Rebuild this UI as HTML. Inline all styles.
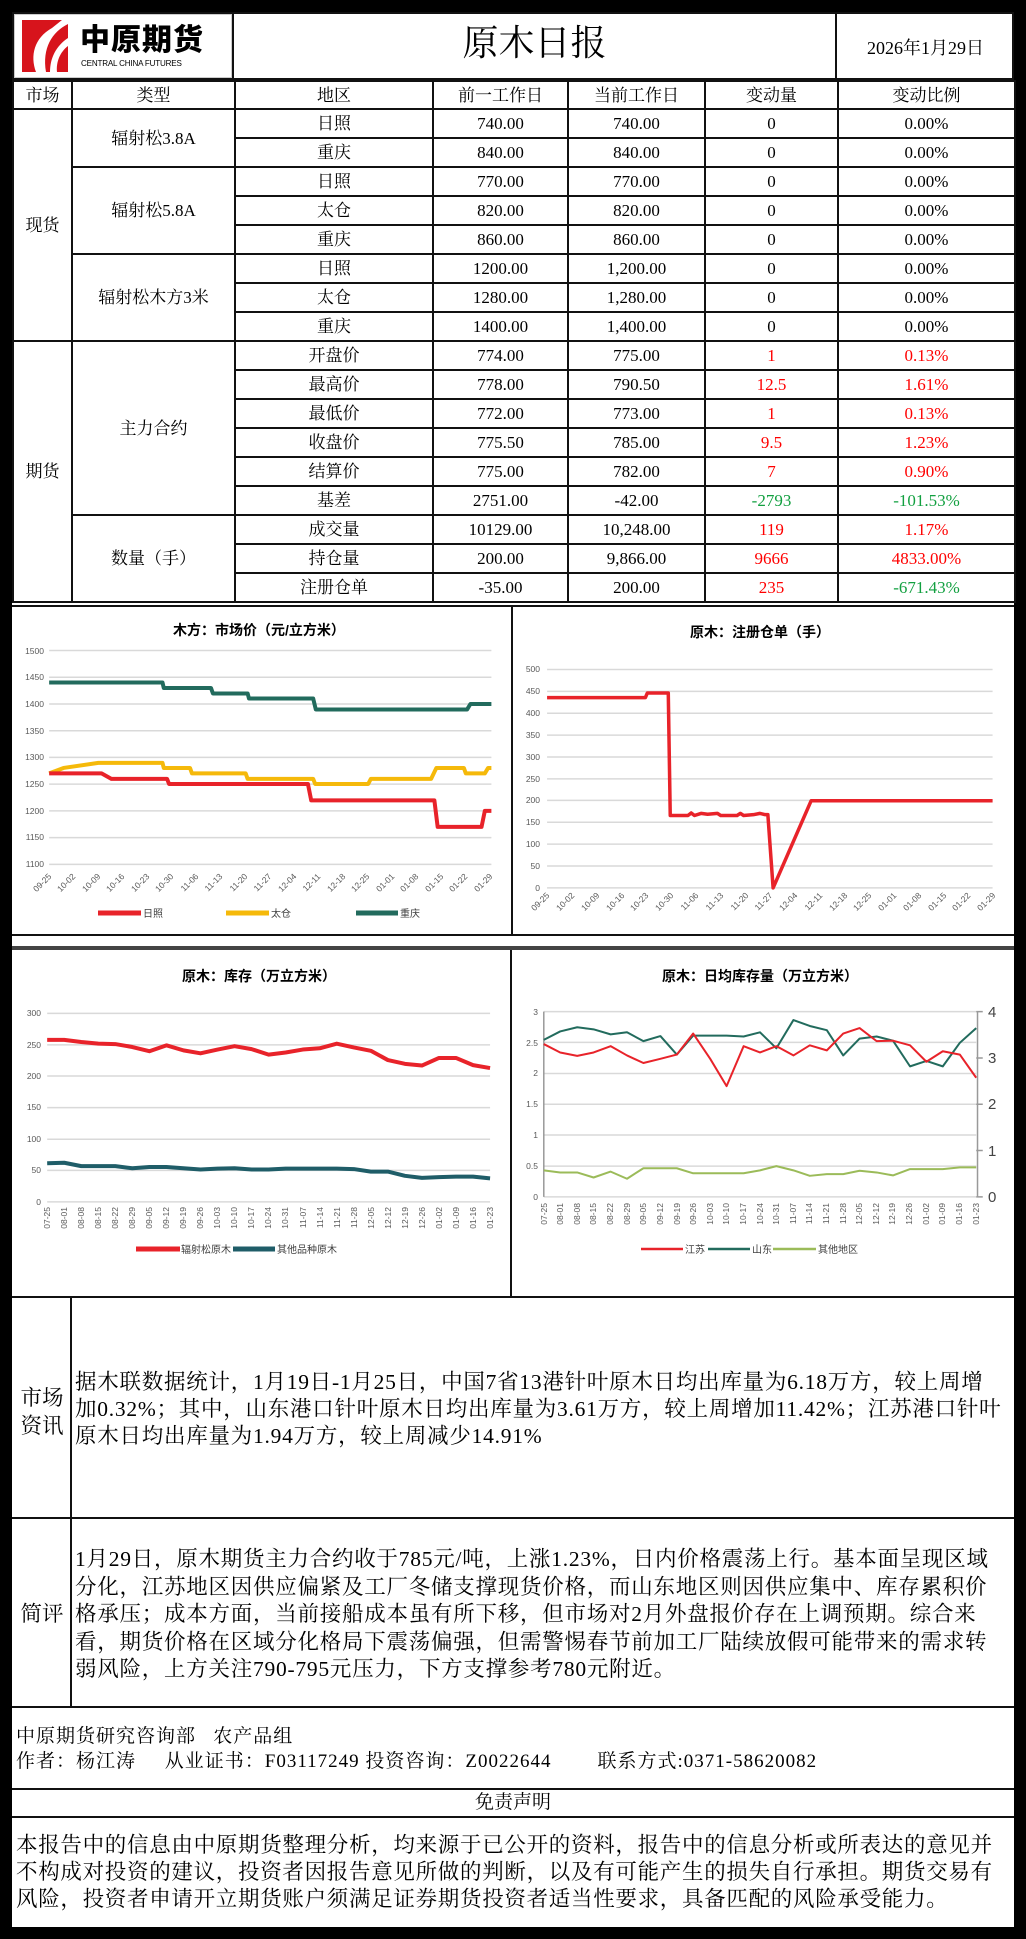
<!DOCTYPE html>
<html><head><meta charset="utf-8">
<style>
*{margin:0;padding:0;box-sizing:border-box}
body{width:1026px;height:1939px;background:#000;position:relative;overflow:hidden;font-family:"Liberation Serif","Noto Serif CJK SC",serif;color:#000}
.abs{position:absolute}
.white{background:#fff}
table{border-collapse:collapse;position:absolute;left:12px;top:80px;table-layout:fixed;background:#fff}
td{border:2px solid #111;text-align:center;font-size:17px;height:29px;padding:0;white-space:nowrap;line-height:25px}
tr.h td{height:28px}
.r{color:#f00}.g{color:#12a040}
.txt{font-size:21.5px;line-height:27px;white-space:nowrap;letter-spacing:0.75px}
</style></head><body>
<div class="abs white" style="left:12px;top:12px;width:1002px;height:1915px"></div>
<div class="abs" style="left:12px;top:12px;width:1002px;height:68px;border:2px solid #111;"></div>
<div class="abs" style="left:232px;top:12px;width:2px;height:68px;background:#111"></div>
<div class="abs" style="left:835px;top:12px;width:2px;height:68px;background:#111"></div>
<div class="abs" style="left:14px;top:14px;width:218px;height:64px;border:1px solid #ccc"></div>
<svg class="abs" style="left:22px;top:20px" width="46" height="52" viewBox="0 0 46 52">
<rect x="0" y="0" width="46" height="52" fill="#d7141c"/>
<path d="M14 52 C8 36 12 18 30 8 L40 0 L46 0 L46 4 C30 12 20 28 24 52Z" fill="#fff"/>
<path d="M28 52 C28 38 34 26 46 18 L46 26 C38 32 34 42 35 52Z" fill="#fff"/>
</svg>
<div class="abs" style="left:80px;top:20px;font-family:'Noto Sans CJK SC',sans-serif;font-weight:900;font-size:30px;line-height:34px;letter-spacing:1px">中原期货</div>
<div class="abs" style="left:81px;top:58px;font-family:'Liberation Sans',sans-serif;font-size:8.5px;letter-spacing:-0.2px;transform:scaleX(0.95);transform-origin:left">CENTRAL CHINA FUTURES</div>
<div class="abs" style="left:234px;top:20px;width:601px;text-align:center;font-size:36px;line-height:46px;font-family:'Liberation Serif','Noto Serif CJK SC',serif">原木日报</div>
<div class="abs" style="left:837px;top:34px;width:177px;text-align:center;font-size:18px">2026年1月29日</div>

<table>
<colgroup><col style="width:59px"><col style="width:163px"><col style="width:198px"><col style="width:135px"><col style="width:137px"><col style="width:133px"><col style="width:177px"></colgroup>
<tr class="h"><td>市场</td><td>类型</td><td>地区</td><td>前一工作日</td><td>当前工作日</td><td>变动量</td><td>变动比例</td></tr>
<tr><td rowspan="8">现货</td><td rowspan="2">辐射松3.8A</td><td>日照</td><td>740.00</td><td>740.00</td><td>0</td><td>0.00%</td></tr>
<tr><td>重庆</td><td>840.00</td><td>840.00</td><td>0</td><td>0.00%</td></tr>
<tr><td rowspan="3">辐射松5.8A</td><td>日照</td><td>770.00</td><td>770.00</td><td>0</td><td>0.00%</td></tr>
<tr><td>太仓</td><td>820.00</td><td>820.00</td><td>0</td><td>0.00%</td></tr>
<tr><td>重庆</td><td>860.00</td><td>860.00</td><td>0</td><td>0.00%</td></tr>
<tr><td rowspan="3">辐射松木方3米</td><td>日照</td><td>1200.00</td><td>1,200.00</td><td>0</td><td>0.00%</td></tr>
<tr><td>太仓</td><td>1280.00</td><td>1,280.00</td><td>0</td><td>0.00%</td></tr>
<tr><td>重庆</td><td>1400.00</td><td>1,400.00</td><td>0</td><td>0.00%</td></tr>
<tr><td rowspan="9">期货</td><td rowspan="6">主力合约</td><td>开盘价</td><td>774.00</td><td>775.00</td><td class="r">1</td><td class="r">0.13%</td></tr>
<tr><td>最高价</td><td>778.00</td><td>790.50</td><td class="r">12.5</td><td class="r">1.61%</td></tr>
<tr><td>最低价</td><td>772.00</td><td>773.00</td><td class="r">1</td><td class="r">0.13%</td></tr>
<tr><td>收盘价</td><td>775.50</td><td>785.00</td><td class="r">9.5</td><td class="r">1.23%</td></tr>
<tr><td>结算价</td><td>775.00</td><td>782.00</td><td class="r">7</td><td class="r">0.90%</td></tr>
<tr><td>基差</td><td>2751.00</td><td>-42.00</td><td class="g">-2793</td><td class="g">-101.53%</td></tr>
<tr><td rowspan="3">数量（手）</td><td>成交量</td><td>10129.00</td><td>10,248.00</td><td class="r">119</td><td class="r">1.17%</td></tr>
<tr><td>持仓量</td><td>200.00</td><td>9,866.00</td><td class="r">9666</td><td class="r">4833.00%</td></tr>
<tr><td>注册仓单</td><td>-35.00</td><td>200.00</td><td class="r">235</td><td class="g">-671.43%</td></tr>
</table>

<div class="abs" style="left:12px;top:605px;width:1002px;height:2px;background:#111"></div>
<div class="abs" style="left:511px;top:605px;width:2px;height:330px;background:#111"></div>
<div class="abs" style="left:12px;top:934px;width:1002px;height:2px;background:#111"></div>
<div class="abs" style="left:12px;top:946px;width:1002px;height:4px;background:#444"></div>
<div class="abs" style="left:510px;top:950px;width:2px;height:347px;background:#111"></div>

<svg class="abs" style="left:0;top:600px" width="1026" height="660" viewBox="0 0 1566 1568" preserveAspectRatio="none">
<g stroke="#d9d9d9" stroke-width="1.5" fill="none">
<path vector-effect="non-scaling-stroke" d="M75 120H750M75 183.5H750M75 247H750M75 310.5H750M75 374H750M75 437.5H750M75 501H750M75 564.5H750M75 628H750"/>
<path vector-effect="non-scaling-stroke" d="M835 165H1515M835 217H1515M835 269H1515M835 321H1515M835 373H1515M835 425H1515M835 476H1515M835 528H1515M835 580H1515M835 632H1515M835 684H1515"/>
<path vector-effect="non-scaling-stroke" d="M72 982H748M72 1057H748M72 1131H748M72 1206H748M72 1281H748M72 1355H748M72 1430H748"/>
<path vector-effect="non-scaling-stroke" d="M830 978H1490M830 1051H1490M830 1125H1490M830 1198H1490M830 1271H1490M830 1345H1490M830 1418H1490"/>
<path vector-effect="non-scaling-stroke" stroke="#999" d="M1492 978V1418M1490 978H1500M1490 1088H1500M1490 1198H1500M1490 1308H1500M1490 1418H1500M830 978V1418"/>
</g>
<g fill="none" stroke-linejoin="round">
<polyline vector-effect="non-scaling-stroke" stroke="#226b5d" stroke-width="4" points="75,196 248,196 250,209 322,209 325,222 378,222 380,234 478,234 482,260 713,260 718,247 750,247"/>
<polyline vector-effect="non-scaling-stroke" stroke="#f5b90a" stroke-width="4" points="75,412 97,399 150,387 248,387 250,399 290,399 293,412 375,412 378,425 478,425 481,437 562,437 566,425 658,425 666,399 708,399 711,412 740,412 745,399 750,399"/>
<polyline vector-effect="non-scaling-stroke" stroke="#e8232a" stroke-width="4" points="75,412 155,412 170,425 255,425 258,437 470,437 475,476 663,476 668,539 735,539 740,501 750,501"/>
<polyline vector-effect="non-scaling-stroke" stroke="#e8232a" stroke-width="3.5" points="835,232 985,232 988,221 1020,221 1023,512 1050,512 1055,506 1060,512 1070,507 1080,509 1095,507 1100,512 1125,512 1130,507 1135,512 1150,510 1160,507 1168,510 1172,510 1180,684 1238,477 1515,477"/>
<polyline vector-effect="non-scaling-stroke" stroke="#e8232a" stroke-width="4" points="72,1045 98,1045 124,1050 150,1054 176,1055 202,1062 228,1072 254,1058 280,1070 306,1077 332,1068 358,1060 384,1067 410,1080 436,1075 462,1068 488,1065 514,1054 540,1063 566,1071 592,1093 618,1102 644,1106 670,1088 696,1088 722,1105 748,1112"/>
<polyline vector-effect="non-scaling-stroke" stroke="#1f5d68" stroke-width="4" points="72,1338 98,1337 124,1345 150,1345 176,1345 202,1350 228,1347 254,1347 280,1350 306,1353 332,1351 358,1350 384,1353 410,1353 436,1351 462,1351 488,1351 514,1351 540,1352 566,1358 592,1358 618,1368 644,1373 670,1371 696,1370 722,1370 748,1374"/>
<polyline vector-effect="non-scaling-stroke" stroke="#9bbb59" stroke-width="2" points="830,1355 855,1360 881,1360 906,1372 932,1358 957,1375 982,1350 1008,1350 1033,1350 1058,1362 1084,1362 1109,1362 1135,1362 1160,1355 1185,1345 1211,1355 1236,1368 1262,1364 1287,1364 1312,1356 1338,1360 1363,1367 1389,1352 1414,1352 1439,1352 1465,1348 1490,1348"/>
<polyline vector-effect="non-scaling-stroke" stroke="#226b5d" stroke-width="2" points="830,1045 855,1025 881,1015 906,1020 932,1032 957,1027 982,1048 1008,1036 1033,1080 1058,1035 1084,1035 1109,1035 1135,1037 1160,1027 1185,1065 1211,998 1236,1012 1262,1022 1287,1082 1312,1042 1338,1037 1363,1047 1389,1108 1414,1095 1439,1108 1465,1052 1490,1017"/>
<polyline vector-effect="non-scaling-stroke" stroke="#e8232a" stroke-width="2" points="830,1055 855,1075 881,1083 906,1075 932,1060 957,1082 982,1100 1008,1090 1033,1080 1058,1030 1084,1090 1109,1155 1135,1060 1160,1075 1185,1060 1211,1082 1236,1058 1262,1070 1287,1030 1312,1017 1338,1048 1363,1047 1389,1058 1414,1097 1439,1072 1465,1080 1490,1135"/>
</g>
</svg>

<svg class="abs" style="left:0;top:0" width="1026" height="1300" font-family="Liberation Sans, Noto Sans CJK SC, sans-serif" font-size="8.5" fill="#595959">
<g font-weight="bold" font-size="14" fill="#000" text-anchor="middle">
<text x="259" y="635">木方：市场价（元/立方米）</text>
<text x="760" y="637">原木：注册仓单（手）</text>
<text x="259" y="981">原木：库存（万立方米）</text>
<text x="760" y="981">原木：日均库存量（万立方米）</text>
</g>
<g text-anchor="end">
<text x="44" y="654">1500</text><text x="44" y="680">1450</text><text x="44" y="707">1400</text><text x="44" y="734">1350</text><text x="44" y="760">1300</text><text x="44" y="787">1250</text><text x="44" y="814">1200</text><text x="44" y="840">1150</text><text x="44" y="867">1100</text>
<text x="540" y="672">500</text><text x="540" y="694">450</text><text x="540" y="716">400</text><text x="540" y="738">350</text><text x="540" y="760">300</text><text x="540" y="782">250</text><text x="540" y="803">200</text><text x="540" y="825">150</text><text x="540" y="847">100</text><text x="540" y="869">50</text><text x="540" y="891">0</text>
<text x="41" y="1016">300</text><text x="41" y="1048">250</text><text x="41" y="1079">200</text><text x="41" y="1110">150</text><text x="41" y="1142">100</text><text x="41" y="1173">50</text><text x="41" y="1205">0</text>
<text x="538" y="1015">3</text><text x="538" y="1046">2.5</text><text x="538" y="1076">2</text><text x="538" y="1107">1.5</text><text x="538" y="1138">1</text><text x="538" y="1169">0.5</text><text x="538" y="1200">0</text>
</g>
<g font-size="15" fill="#444">
<text x="988" y="1017">4</text><text x="988" y="1063">3</text><text x="988" y="1109">2</text><text x="988" y="1156">1</text><text x="988" y="1202">0</text>
</g>
<g text-anchor="end">
<text transform="translate(52,877) rotate(-45)">09-25</text><text transform="translate(76,877) rotate(-45)">10-02</text><text transform="translate(101,877) rotate(-45)">10-09</text><text transform="translate(125,877) rotate(-45)">10-16</text><text transform="translate(150,877) rotate(-45)">10-23</text><text transform="translate(174,877) rotate(-45)">10-30</text><text transform="translate(199,877) rotate(-45)">11-06</text><text transform="translate(223,877) rotate(-45)">11-13</text><text transform="translate(248,877) rotate(-45)">11-20</text><text transform="translate(272,877) rotate(-45)">11-27</text><text transform="translate(297,877) rotate(-45)">12-04</text><text transform="translate(321,877) rotate(-45)">12-11</text><text transform="translate(346,877) rotate(-45)">12-18</text><text transform="translate(370,877) rotate(-45)">12-25</text><text transform="translate(395,877) rotate(-45)">01-01</text><text transform="translate(419,877) rotate(-45)">01-08</text><text transform="translate(444,877) rotate(-45)">01-15</text><text transform="translate(468,877) rotate(-45)">01-22</text><text transform="translate(493,877) rotate(-45)">01-29</text>
<text transform="translate(550,896) rotate(-45)">09-25</text><text transform="translate(575,896) rotate(-45)">10-02</text><text transform="translate(600,896) rotate(-45)">10-09</text><text transform="translate(625,896) rotate(-45)">10-16</text><text transform="translate(649,896) rotate(-45)">10-23</text><text transform="translate(674,896) rotate(-45)">10-30</text><text transform="translate(699,896) rotate(-45)">11-06</text><text transform="translate(724,896) rotate(-45)">11-13</text><text transform="translate(749,896) rotate(-45)">11-20</text><text transform="translate(773,896) rotate(-45)">11-27</text><text transform="translate(798,896) rotate(-45)">12-04</text><text transform="translate(823,896) rotate(-45)">12-11</text><text transform="translate(848,896) rotate(-45)">12-18</text><text transform="translate(872,896) rotate(-45)">12-25</text><text transform="translate(897,896) rotate(-45)">01-01</text><text transform="translate(922,896) rotate(-45)">01-08</text><text transform="translate(947,896) rotate(-45)">01-15</text><text transform="translate(971,896) rotate(-45)">01-22</text><text transform="translate(996,896) rotate(-45)">01-29</text>
</g>
<g text-anchor="end">
<text transform="translate(50,1207) rotate(-90)">07-25</text><text transform="translate(67,1207) rotate(-90)">08-01</text><text transform="translate(84,1207) rotate(-90)">08-08</text><text transform="translate(101,1207) rotate(-90)">08-15</text><text transform="translate(118,1207) rotate(-90)">08-22</text><text transform="translate(135,1207) rotate(-90)">08-29</text><text transform="translate(152,1207) rotate(-90)">09-05</text><text transform="translate(169,1207) rotate(-90)">09-12</text><text transform="translate(186,1207) rotate(-90)">09-19</text><text transform="translate(203,1207) rotate(-90)">09-26</text><text transform="translate(220,1207) rotate(-90)">10-03</text><text transform="translate(237,1207) rotate(-90)">10-10</text><text transform="translate(254,1207) rotate(-90)">10-17</text><text transform="translate(271,1207) rotate(-90)">10-24</text><text transform="translate(288,1207) rotate(-90)">10-31</text><text transform="translate(306,1207) rotate(-90)">11-07</text><text transform="translate(323,1207) rotate(-90)">11-14</text><text transform="translate(340,1207) rotate(-90)">11-21</text><text transform="translate(357,1207) rotate(-90)">11-28</text><text transform="translate(374,1207) rotate(-90)">12-05</text><text transform="translate(391,1207) rotate(-90)">12-12</text><text transform="translate(408,1207) rotate(-90)">12-19</text><text transform="translate(425,1207) rotate(-90)">12-26</text><text transform="translate(442,1207) rotate(-90)">01-02</text><text transform="translate(459,1207) rotate(-90)">01-09</text><text transform="translate(476,1207) rotate(-90)">01-16</text><text transform="translate(493,1207) rotate(-90)">01-23</text>
<text transform="translate(547,1203) rotate(-90)">07-25</text><text transform="translate(563,1203) rotate(-90)">08-01</text><text transform="translate(580,1203) rotate(-90)">08-08</text><text transform="translate(596,1203) rotate(-90)">08-15</text><text transform="translate(613,1203) rotate(-90)">08-22</text><text transform="translate(630,1203) rotate(-90)">08-29</text><text transform="translate(646,1203) rotate(-90)">09-05</text><text transform="translate(663,1203) rotate(-90)">09-12</text><text transform="translate(680,1203) rotate(-90)">09-19</text><text transform="translate(696,1203) rotate(-90)">09-26</text><text transform="translate(713,1203) rotate(-90)">10-03</text><text transform="translate(729,1203) rotate(-90)">10-10</text><text transform="translate(746,1203) rotate(-90)">10-17</text><text transform="translate(763,1203) rotate(-90)">10-24</text><text transform="translate(779,1203) rotate(-90)">10-31</text><text transform="translate(796,1203) rotate(-90)">11-07</text><text transform="translate(812,1203) rotate(-90)">11-14</text><text transform="translate(829,1203) rotate(-90)">11-21</text><text transform="translate(846,1203) rotate(-90)">11-28</text><text transform="translate(862,1203) rotate(-90)">12-05</text><text transform="translate(879,1203) rotate(-90)">12-12</text><text transform="translate(895,1203) rotate(-90)">12-19</text><text transform="translate(912,1203) rotate(-90)">12-26</text><text transform="translate(929,1203) rotate(-90)">01-02</text><text transform="translate(945,1203) rotate(-90)">01-09</text><text transform="translate(962,1203) rotate(-90)">01-16</text><text transform="translate(979,1203) rotate(-90)">01-23</text>
</g>
<g stroke-width="5">
<line x1="98" y1="913" x2="141" y2="913" stroke="#e8232a"/><line x1="226" y1="913" x2="269" y2="913" stroke="#f5b90a"/><line x1="356" y1="913" x2="398" y2="913" stroke="#226b5d"/>
<line x1="136" y1="1249" x2="180" y2="1249" stroke="#e8232a"/><line x1="233" y1="1249" x2="275" y2="1249" stroke="#1f5d68"/>
</g>
<g stroke-width="2.5">
<line x1="641" y1="1249" x2="683" y2="1249" stroke="#e8232a"/><line x1="708" y1="1249" x2="750" y2="1249" stroke="#226b5d"/><line x1="773" y1="1249" x2="816" y2="1249" stroke="#9bbb59"/>
</g>
<g font-size="10" fill="#404040">
<text x="143" y="917">日照</text><text x="271" y="917">太仓</text><text x="400" y="917">重庆</text>
<text x="181" y="1253">辐射松原木</text><text x="277" y="1253">其他品种原木</text>
<text x="685" y="1253">江苏</text><text x="752" y="1253">山东</text><text x="818" y="1253">其他地区</text>
</g>
</svg>

<div class="abs" style="left:12px;top:1296px;width:1002px;height:2px;background:#111"></div>
<div class="abs" style="left:70px;top:1296px;width:2px;height:412px;background:#111"></div>
<div class="abs" style="left:12px;top:1517px;width:1002px;height:2px;background:#111"></div>
<div class="abs" style="left:12px;top:1706px;width:1002px;height:2px;background:#111"></div>
<div class="abs" style="left:12px;top:1788px;width:1002px;height:2px;background:#111"></div>
<div class="abs" style="left:12px;top:1816px;width:1002px;height:2px;background:#111"></div>

<div class="abs txt" style="left:14px;top:1384px;width:56px;text-align:center;line-height:28px;letter-spacing:0">市场<br>资讯</div>
<div class="abs txt" style="left:75px;top:1369px">据木联数据统计，1月19日-1月25日，中国7省13港针叶原木日均出库量为6.18万方，较上周增<br>加0.32%；其中，山东港口针叶原木日均出库量为3.61万方，较上周增加11.42%；江苏港口针叶<br>原木日均出库量为1.94万方，较上周减少14.91%</div>

<div class="abs txt" style="left:14px;top:1601px;width:56px;text-align:center;letter-spacing:0">简评</div>
<div class="abs txt" style="left:75px;top:1546px;line-height:27.5px">1月29日，原木期货主力合约收于785元/吨，上涨1.23%，日内价格震荡上行。基本面呈现区域<br>分化，江苏地区因供应偏紧及工厂冬储支撑现货价格，而山东地区则因供应集中、库存累积价<br>格承压；成本方面，当前接船成本虽有所下移，但市场对2月外盘报价存在上调预期。综合来<br>看，期货价格在区域分化格局下震荡偏强，但需警惕春节前加工厂陆续放假可能带来的需求转<br>弱风险，上方关注790-795元压力，下方支撑参考780元附近。</div>

<div class="abs" style="left:16px;top:1724px;font-size:19px;line-height:25px;white-space:nowrap;letter-spacing:1px">中原期货研究咨询部&nbsp;&nbsp;&nbsp;农产品组<br>作者：杨江涛&nbsp;&nbsp;&nbsp;&nbsp;&nbsp;从业证书：F03117249 投资咨询：Z0022644&nbsp;&nbsp;&nbsp;&nbsp;&nbsp;&nbsp;&nbsp;&nbsp;联系方式:0371-58620082</div>
<div class="abs" style="left:12px;top:1790px;width:1002px;text-align:center;font-size:19px;line-height:26px">免责声明</div>
<div class="abs txt" style="left:16px;top:1832px;line-height:27px;letter-spacing:0.7px">本报告中的信息由中原期货整理分析，均来源于已公开的资料，报告中的信息分析或所表达的意见并<br>不构成对投资的建议，投资者因报告意见所做的判断，以及有可能产生的损失自行承担。期货交易有<br>风险，投资者申请开立期货账户须满足证券期货投资者适当性要求，具备匹配的风险承受能力。</div>
</body></html>
